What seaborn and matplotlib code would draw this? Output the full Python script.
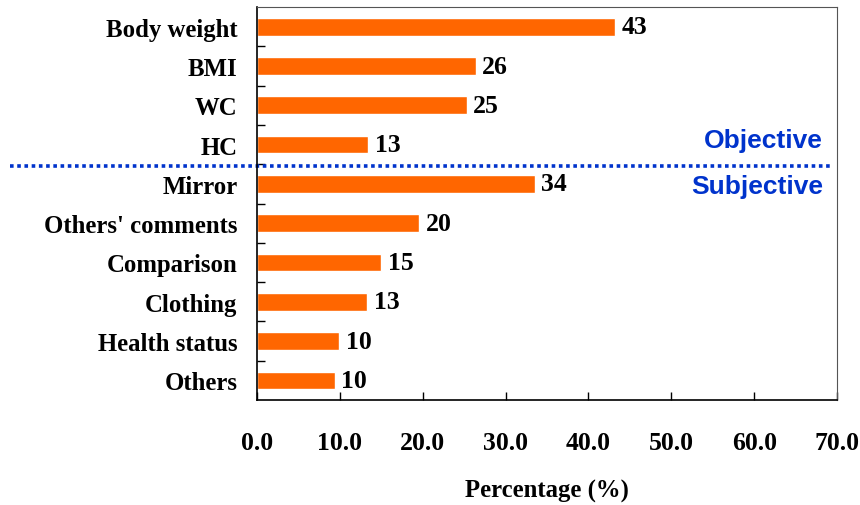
import pandas as pd
import seaborn as sns
import matplotlib.pyplot as plt
import matplotlib.transforms as mtransforms
import numpy as np

# data
categories = ['Body weight', 'BMI', 'WC', 'HC', 'Mirror', "Others' comments",
              'Comparison', 'Clothing', 'Health status', 'Others']
percentages = [43.2, 26.4, 25.3, 13.4, 33.5, 19.6, 15.0, 13.3, 9.9, 9.4]
value_labels = ['43', '26', '25', '13', '34', '20', '15', '13', '10', '10']
xticks = [0, 10, 20, 30, 40, 50, 60, 70]

df = pd.DataFrame({'category': categories, 'pct': percentages})

sns.set_style("white")
plt.rcParams['text.color'] = 'black'
plt.rcParams['axes.labelcolor'] = 'black'
plt.rcParams['xtick.color'] = 'black'
plt.rcParams['ytick.color'] = 'black'
serif = ['Liberation Serif', 'DejaVu Serif']

fig = plt.figure(figsize=(8.6, 5.06), dpi=100)
ax = fig.add_axes([0.2988, 0.2075, 0.6745, 0.7765])

sns.barplot(data=df, x='pct', y='category', color='#FF6600', saturation=1,
            width=0.45, orient='h', ax=ax)

for i, (v, lab) in enumerate(zip(percentages, value_labels)):
    ax.text(v + 0.8, i, lab, va='center', ha='left', fontsize=18.5,
            fontweight='bold', family=serif, color='black')

ax.set_xlim(0, 70)
ax.set_ylim(9.5, -0.5)
ax.set_xticks(xticks)
ax.set_xticklabels([f'{t:.1f}' for t in xticks], fontsize=18.5,
                   fontweight='bold', family=serif)
ax.set_yticks(range(len(categories)))
ax.set_yticklabels(categories, fontsize=17.8, fontweight='bold', family=serif)
ax.tick_params(axis='y', length=0, pad=14, labelcolor='black')
ax.tick_params(axis='x', direction='in', length=6, width=1, pad=22,
               top=False, bottom=True, labelcolor='black')
# small ticks between categories
ax.set_yticks(np.arange(0.5, len(categories) - 1, 1), minor=True)
ax.tick_params(axis='y', which='minor', direction='in', length=6, width=1,
               left=True)

ax.set_xlabel('Percentage (%)', fontsize=17.8, fontweight='bold', family=serif,
              labelpad=18, color='black')
ax.set_ylabel('')

for s in ax.spines.values():
    s.set_visible(True)
    s.set_color('black')
    s.set_linewidth(1.2)
ax.spines['top'].set_color('#555555')
ax.spines['right'].set_color('#555555')
ax.spines['top'].set_linewidth(0.8)
ax.spines['right'].set_linewidth(0.8)

# dotted separator between objective and subjective
trans = mtransforms.blended_transform_factory(ax.transAxes, ax.transData)
ax.plot([-0.426, 0.988], [3.55, 3.55], transform=trans, color='#0033CC',
        linestyle=(0, (1, 1)), linewidth=2.6, clip_on=False)

ax.text(0.976, 2.88, 'Objective', transform=trans, ha='right', va='center',
        color='#0033CC', fontsize=19, fontweight='bold', family='Liberation Sans')
ax.text(0.976, 4.05, 'Subjective', transform=trans, ha='right', va='center',
        color='#0033CC', fontsize=19, fontweight='bold', family='Liberation Sans')

fig.savefig('out.png', dpi=100)
